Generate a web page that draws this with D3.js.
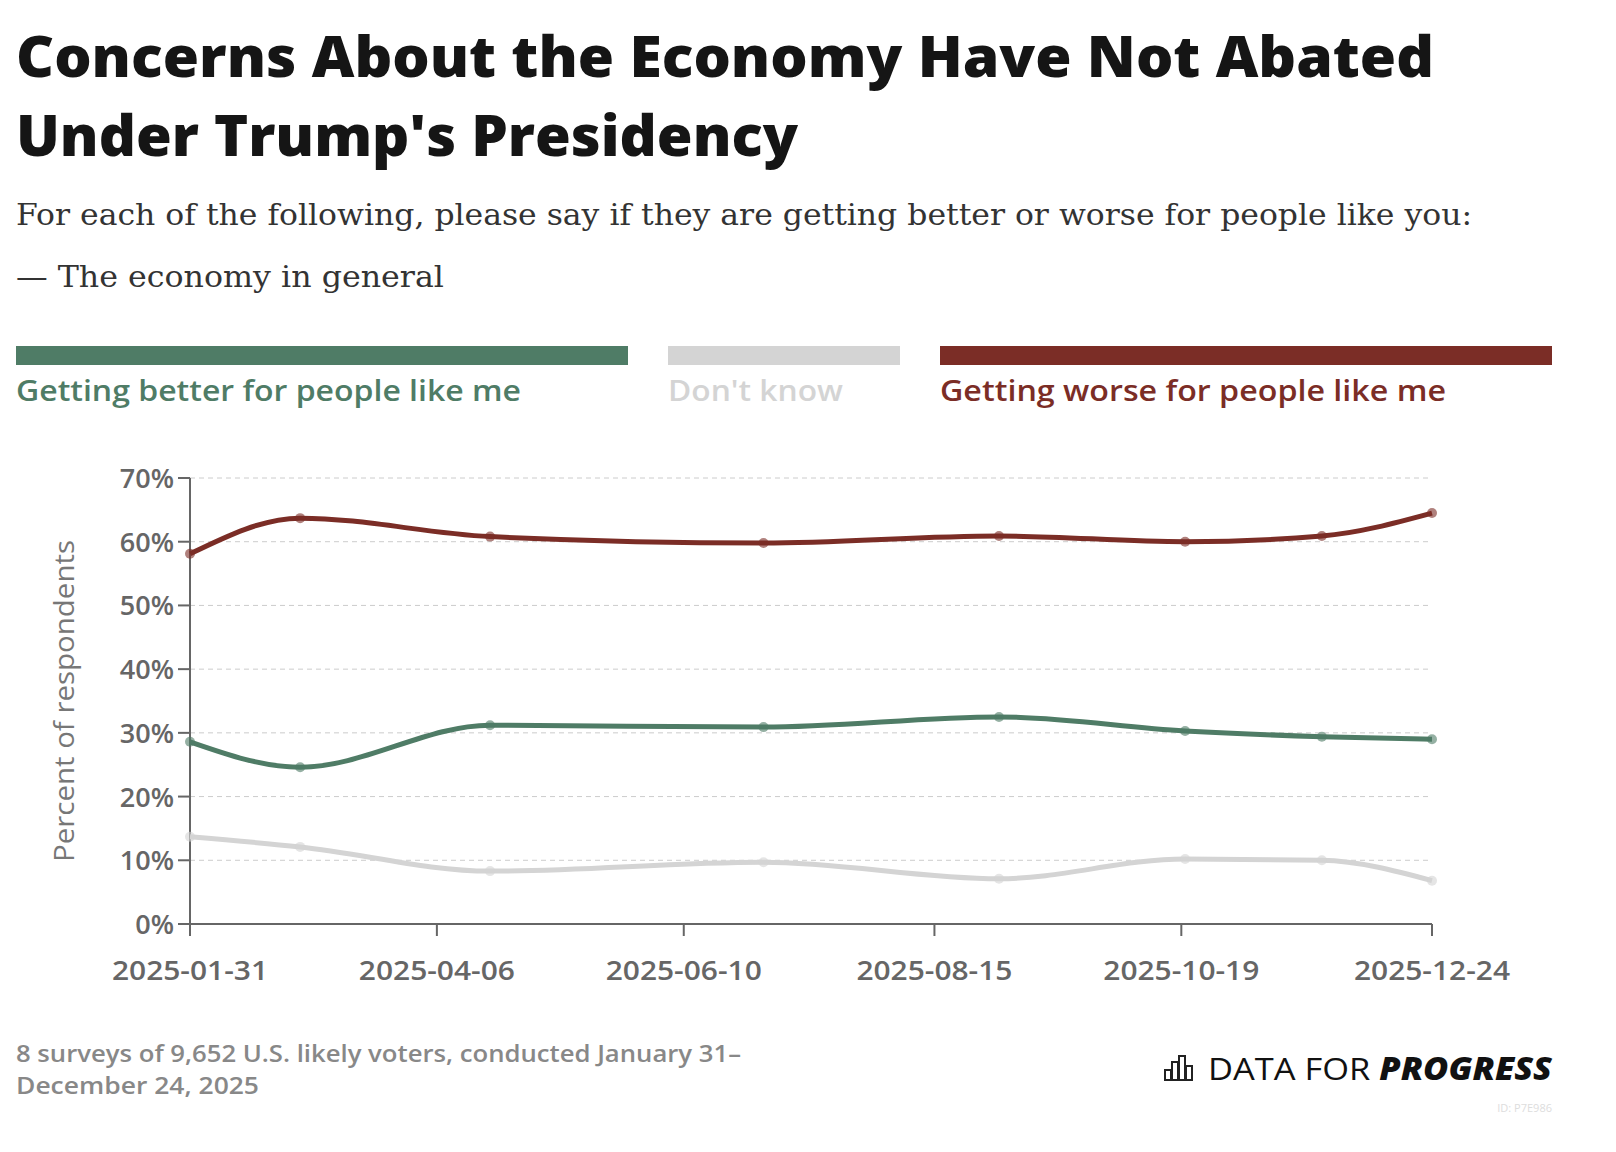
<!DOCTYPE html>
<html><head><meta charset="utf-8">
<script src="https://cdn.jsdelivr.net/npm/d3@7"></script>
<style>body{margin:0;background:#fff}</style></head>
<body><svg id="c" width="1616" height="1152"></svg>
<script>
const dates=["2025-01-31","2025-03-01","2025-04-20","2025-07-01","2025-09-01","2025-10-20","2025-11-25","2025-12-24"];
const better=[28.6,24.6,31.2,30.9,32.5,30.3,29.4,29.0];
const dontKnow=[13.7,12.1,8.3,9.7,7.1,10.2,10.0,6.8];
const worse=[58.1,63.7,60.8,59.8,60.9,60.0,60.9,64.5];
const tickDates=["2025-01-31","2025-04-06","2025-06-10","2025-08-15","2025-10-19","2025-12-24"];
const yTicks=[0,10,20,30,40,50,60,70];
const seriesNames=["Getting better for people like me","Don't know","Getting worse for people like me"];
const colors=["#4f7c66","#d4d4d4","#7b2d26"];

const svg=d3.select("#c");
const P=d3.utcParse("%Y-%m-%d");
const sans="'Open Sans', Lato, sans-serif";
svg.append("text").attr("x",16).attr("y",77).attr("font-family",sans).attr("font-weight",800).attr("font-size",57).attr("fill","#151515").attr("textLength",1418).attr("lengthAdjust","spacingAndGlyphs").text("Concerns About the Economy Have Not Abated");
svg.append("text").attr("x",16).attr("y",156).attr("font-family",sans).attr("font-weight",800).attr("font-size",57).attr("fill","#151515").attr("textLength",782).attr("lengthAdjust","spacingAndGlyphs").text("Under Trump's Presidency");
svg.append("text").attr("x",16).attr("y",225).attr("font-family","'DejaVu Serif', serif").attr("font-size",30).attr("fill","#333").attr("textLength",1456).attr("lengthAdjust","spacingAndGlyphs").text("For each of the following, please say if they are getting better or worse for people like you:");
svg.append("text").attr("x",16).attr("y",287).attr("font-family","'DejaVu Serif', serif").attr("font-size",30).attr("fill","#333").attr("textLength",428).attr("lengthAdjust","spacingAndGlyphs").text("— The economy in general");

const leg=[[16,628],[668,900],[940,1552]];
const legW=[505,175,506];
seriesNames.forEach((n,i)=>{
  svg.append("rect").attr("x",leg[i][0]).attr("y",346).attr("width",leg[i][1]-leg[i][0]).attr("height",19).attr("fill",colors[i]);
  svg.append("text").attr("x",leg[i][0]).attr("y",401).attr("font-family",sans).attr("font-weight",600).attr("font-size",29).attr("fill",colors[i]).attr("textLength",legW[i]).attr("lengthAdjust","spacingAndGlyphs").text(n);
});

const x=d3.scaleUtc().domain([P(dates[0]),P(dates[7])]).range([190,1432]);
const y=d3.scaleLinear().domain([0,70]).range([924,478]);
yTicks.forEach(t=>{
  if(t>0) svg.append("line").attr("x1",190).attr("x2",1432).attr("y1",y(t)).attr("y2",y(t)).attr("stroke","#ccc").attr("stroke-dasharray","5,4");
  svg.append("text").attr("x",174).attr("y",y(t)+10).attr("text-anchor","end").attr("font-family",sans).attr("font-weight",600).attr("font-size",27).attr("fill","#666").text(t+"%");
  svg.append("line").attr("x1",178).attr("x2",190).attr("y1",y(t)).attr("y2",y(t)).attr("stroke","#666").attr("stroke-width",2);
});
svg.append("line").attr("x1",190).attr("x2",190).attr("y1",478).attr("y2",924).attr("stroke","#666").attr("stroke-width",2);
svg.append("line").attr("x1",190).attr("x2",1432).attr("y1",924).attr("y2",924).attr("stroke","#666").attr("stroke-width",2);
tickDates.forEach(d=>{
  svg.append("line").attr("x1",x(P(d))).attr("x2",x(P(d))).attr("y1",924).attr("y2",936).attr("stroke","#666").attr("stroke-width",2);
  svg.append("text").attr("x",x(P(d))).attr("y",980).attr("text-anchor","middle").attr("font-family",sans).attr("font-weight",600).attr("font-size",27).attr("fill","#666").attr("textLength",156).attr("lengthAdjust","spacingAndGlyphs").text(d);
});
svg.append("text").attr("transform","translate(74,701) rotate(-90)").attr("text-anchor","middle").attr("font-family",sans).attr("font-size",27).attr("fill","#777").attr("textLength",322).attr("lengthAdjust","spacingAndGlyphs").text("Percent of respondents");

const line=d3.line().x((d,i)=>x(P(dates[i]))).y(d=>y(d)).curve(d3.curveMonotoneX);
[dontKnow,better,worse].forEach((s,k)=>{
  const c=[colors[1],colors[0],colors[2]][k];
  svg.append("path").attr("d",line(s)).attr("fill","none").attr("stroke",c).attr("stroke-width",5);
  s.forEach((v,i)=>svg.append("circle").attr("cx",x(P(dates[i]))).attr("cy",y(v)).attr("r",5).attr("fill",c).attr("opacity",0.6));
});

svg.append("text").attr("x",16).attr("y",1062).attr("font-family",sans).attr("font-weight",600).attr("font-size",23).attr("fill","#888").attr("textLength",725).attr("lengthAdjust","spacingAndGlyphs").text("8 surveys of 9,652 U.S. likely voters, conducted January 31–");
svg.append("text").attr("x",16).attr("y",1094).attr("font-family",sans).attr("font-weight",600).attr("font-size",23).attr("fill","#888").attr("textLength",243).attr("lengthAdjust","spacingAndGlyphs").text("December 24, 2025");
const lg=svg.append("g").attr("transform","translate(1165,1058)");
[[0,10],[7,18],[14,24],[21,14]].forEach(([dx,h])=>lg.append("rect").attr("x",dx).attr("y",22-h).attr("width",6).attr("height",h).attr("fill","none").attr("stroke","#222").attr("stroke-width",2));
const dt=svg.append("text").attr("x",1208).attr("y",1080).attr("font-family",sans).attr("font-size",31).attr("fill","#111").attr("textLength",344).attr("lengthAdjust","spacingAndGlyphs").text("DATA FOR ");
dt.append("tspan").attr("font-weight",800).attr("font-style","italic").text("PROGRESS");
svg.append("text").attr("x",1552).attr("y",1112).attr("text-anchor","end").attr("font-family",sans).attr("font-size",11).attr("fill","#ddd").text("ID: P7E986");
</script></body></html>
